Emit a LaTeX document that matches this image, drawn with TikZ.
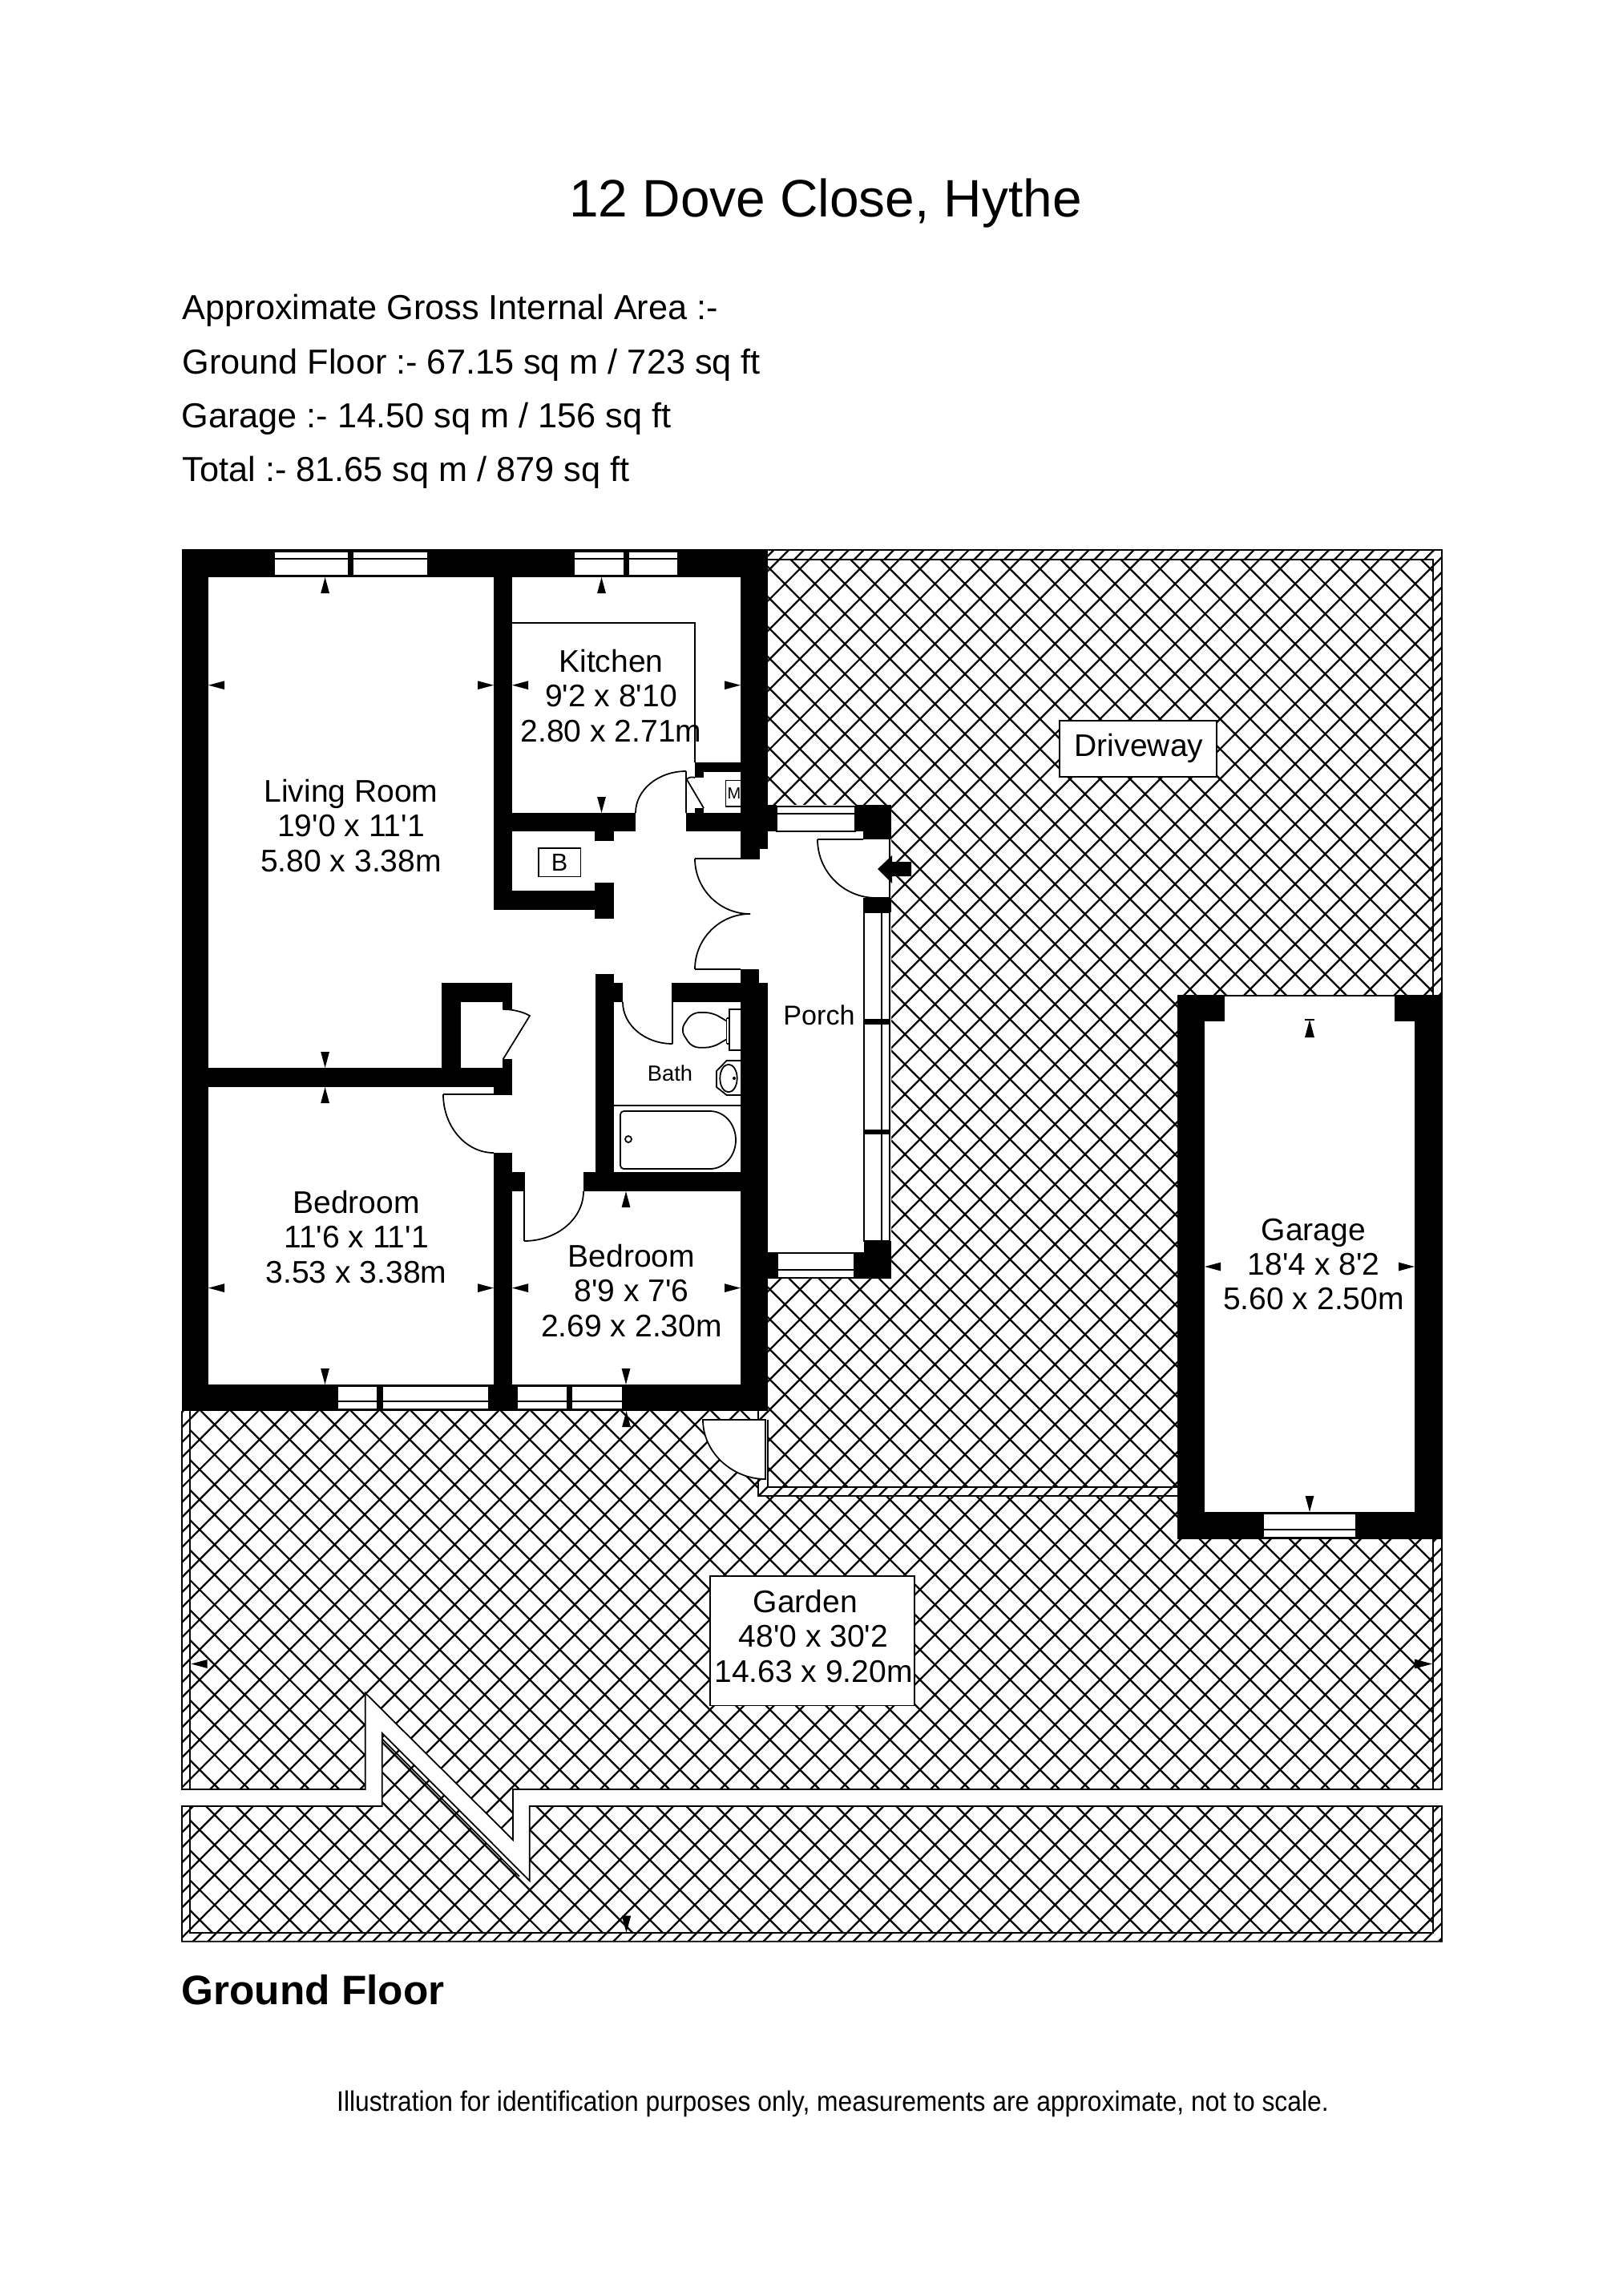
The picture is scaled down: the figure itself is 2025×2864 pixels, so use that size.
\documentclass[tikz,border=0pt]{standalone}
\usepackage{fontspec}
\usetikzlibrary{calc}
\newfontfamily\planfont{Liberation Sans}
\newcommand{\doorarc}[3]{(#1) .. controls ($(#1)!0.5523!(#2)$) and ($(#3)!0.5523!(#2)$) .. (#3)}
\newcommand{\dimmark}[4]{\fill (#1,#2) -- ++({#3+#4*0.27},{#4+#3*0.27}) -- ++({-2*#4*0.27},{-2*#3*0.27}) -- cycle;}
\tikzset{
    wall/.style={fill=black},
    plan/.style={draw=black, line width=0.5pt},
    glazing/.style={draw=black, fill=white, line width=0.5pt},
    hatchline/.style={draw=black, line width=0.65pt},
    roomlabel/.style={font=\planfont\fontsize{11.1}{12.35}\selectfont, align=center, inner sep=0pt},
    infoline/.style={font=\planfont\fontsize{12.3}{14}\selectfont, anchor=base west, inner sep=0pt}
}
\begin{document}
\begin{tikzpicture}[x=0.01cm, y=-0.01cm]
    \useasboundingbox (0,0) rectangle (2025,2864);

    \node [font=\planfont\fontsize{18.7}{20}\selectfont, anchor=base, inner sep=0pt] (title) at (1030,271) {12 Dove Close, Hythe};
    \node [infoline] (arealine) at (227,399) {Approximate Gross Internal Area :-};
    \node [infoline] (groundline) at (227,466) {Ground Floor :- 67.15 sq m / 723 sq ft};
    \node [infoline] (garageline) at (226,533) {Garage :- 14.50 sq m / 156 sq ft};
    \node [infoline] (totalline) at (227,600) {Total :- 81.65 sq m / 879 sq ft};

    \begin{scope}
        \clip (237.3,697.7) -- (1787.7,697.7) -- (1787.7,2232) -- (640,2232) -- (640,2295) -- (455.7,2111.7) -- (455.7,2232) -- (237.3,2232) -- cycle
              (237.3,2253) -- (476.7,2253) -- (476.7,2161.7) -- (660.7,2346) -- (660.7,2253) -- (1787.7,2253) -- (1787.7,2410.7) -- (237.3,2410.7) -- cycle;
        \foreach \k in {-66,...,23} {
            \draw [hatchline] (227,{227-251-37.45*\k}) -- (1799,{1799-251-37.45*\k});
        }
        \foreach \k in {-21,...,67} {
            \draw [hatchline] (227,{1707.6+37.45*\k-227}) -- (1799,{1707.6+37.45*\k-1799});
        }
    \end{scope}

    \fill [white] (946,1855) rectangle (1468.7,1866);
    \fill [white] (946,1760) rectangle (958,1866);
    \fill [white] (476.7,2161.7) -- (660.7,2346) -- (648,2340.5) -- (476.7,2169) -- cycle;

    \begin{scope}
        \clip (958,686) rectangle (1799,697.7)
              (1787.7,686) rectangle (1799,2232)
              (1787.7,2253) rectangle (1799,2421.7)
              (227,2410.7) rectangle (1799,2421.7)
              (227,1760) rectangle (237.3,2232)
              (227,2253) rectangle (237.3,2421.7)
              (946,1855) rectangle (1468.7,1866)
              (946,1760) rectangle (958,1771)
              (946,1845) rectangle (958,1866);
        \foreach \k in {-42,...,134} {
            \draw [hatchline] (227,{1707.6+18.725*\k-227}) -- (1799,{1707.6+18.725*\k-1799});
        }
    \end{scope}

    \begin{scope}
        \clip (476.7,2161.7) -- (660.7,2346) -- (648,2340.5) -- (476.7,2169) -- cycle;
        \foreach \k in {14,...,30} {
            \draw [hatchline] (227,{1707.6+37.45*\k-227}) -- (1799,{1707.6+37.45*\k-1799});
        }
    \end{scope}

    \draw [plan] (958,686) -- (1799,686) -- (1799,2232) -- (640,2232) -- (640,2295) -- (455.7,2111.7) -- (455.7,2232) -- (227,2232) -- (227,1760);
    \draw [plan] (958,697.7) -- (1787.7,697.7) -- (1787.7,2232);
    \draw [plan] (237.3,1760) -- (237.3,2232);
    \draw [plan] (227,2253) -- (476.7,2253) -- (476.7,2161.7) -- (660.7,2346) -- (660.7,2253) -- (1799,2253) -- (1799,2421.7) -- (227,2421.7) -- cycle;
    \draw [plan] (237.3,2253) -- (237.3,2410.7) -- (1787.7,2410.7) -- (1787.7,2253);
    \draw [plan] (476.7,2169) -- (648,2340.5);
    \draw [plan] (958,1771) -- (958,1855) -- (1468.7,1855);
    \draw [plan] (946,1760) -- (946,1771);
    \draw [plan] (946,1845) -- (946,1866) -- (1468.7,1866);

    \filldraw [glazing] (877,1771) .. controls (877,1812) and (914,1845) .. (955,1845) -- (955,1771) -- cycle;

    \fill [white] (226.5,685) -- (958,685) -- (958,1004) -- (1112,1004) -- (1112,1595) -- (958,1595) -- (958,1760) -- (226.5,1760) -- cycle;
    \fill [white] (1468.7,1240.7) rectangle (1799.3,1920);

    \node [font=\planfont\fontsize{5.7}{6}\selectfont, inner sep=0pt] (meterlabel) at (916,990) {M};
    \draw [plan] (905.6,973.6) rectangle (928,1006);

    \fill [wall] (226.5,685) rectangle (958,720);
    \fill [wall] (226.5,685) rectangle (260,1760);
    \fill [wall] (226.5,1727) rectangle (958,1760);
    \fill [wall] (924,685) rectangle (958,1059);
    \fill [wall] (924,1059) rectangle (948,1072);
    \fill [wall] (958,1004) rectangle (969,1037);
    \fill [wall] (1067,1004) rectangle (1112,1037);
    \fill [wall] (1077,1037) rectangle (1112,1047);
    \fill [wall] (1077,1120) rectangle (1112,1138);
    \fill [wall] (1078,1548) rectangle (1112,1562);
    \fill [wall] (1066,1562) rectangle (1112,1595);
    \fill [wall] (958,1562) rectangle (970,1595);
    \fill [wall] (924,1209) rectangle (947,1226);
    \fill [wall] (924,1226) rectangle (958,1760);
    \fill [wall] (838,1226) rectangle (924,1250);
    \fill [wall] (743,1215) rectangle (766,1486);
    \fill [wall] (766,1226) rectangle (777,1250);
    \fill [wall] (728,1462) rectangle (924,1486);
    \fill [wall] (639,1462) rectangle (655,1486);
    \fill [wall] (616,1438) rectangle (639,1760);
    \fill [wall] (610,1727) rectangle (645,1760);
    \fill [wall] (260,1332) rectangle (639,1356);
    \fill [wall] (616,1356) rectangle (639,1366);
    \fill [wall] (551,1226) rectangle (575,1332);
    \fill [wall] (551,1226) rectangle (639,1250);
    \fill [wall] (626.5,1250) rectangle (639,1259);
    \fill [wall] (626.5,1321) rectangle (639,1332);
    \fill [wall] (616,720) rectangle (639,1135);
    \fill [wall] (616,1111) rectangle (742,1135);
    \fill [wall] (742,1101) rectangle (766,1145.5);
    \fill [wall] (639,1014) rectangle (793,1037);
    \fill [wall] (742,1037) rectangle (766,1049);
    \fill [wall] (856,1014) rectangle (924,1037);
    \fill [wall] (867,951) rectangle (924,963);
    \fill [wall] (867,963) rectangle (878,970);
    \fill [wall] (867,1008) rectangle (878,1014);
    \fill [wall] (1468.7,1240.7) rectangle (1502.7,1920);
    \fill [wall] (1468.7,1240.7) rectangle (1527.7,1274);
    \fill [wall] (1739.7,1240.7) rectangle (1799.3,1274);
    \fill [wall] (1765,1240.7) rectangle (1799.3,1920);
    \fill [wall] (1468.7,1886) rectangle (1799.3,1920);
    \draw [plan] (1527.7,1242) -- (1739.7,1242);

    \filldraw [glazing] (342,688) rectangle (534,718);
    \draw [plan] (342,697) -- (534,697);
    \fill [wall] (434,688) rectangle (441,718);
    \filldraw [glazing] (716,688) rectangle (846,718);
    \draw [plan] (716,697) -- (846,697);
    \fill [wall] (778,688) rectangle (785,718);
    \filldraw [glazing] (421,1729) rectangle (610,1758);
    \draw [plan] (421,1748) -- (610,1748);
    \fill [wall] (470,1729) rectangle (478,1758);
    \filldraw [glazing] (645,1729) rectangle (777,1758);
    \draw [plan] (645,1748) -- (777,1748);
    \fill [wall] (707,1729) rectangle (714,1758);
    \filldraw [glazing] (1576,1888) rectangle (1692,1918);
    \draw [plan] (1576,1908) -- (1692,1908);
    \filldraw [glazing] (969,1006) rectangle (1067,1037);
    \draw [plan] (969,1015) -- (1067,1015);
    \filldraw [glazing] (970,1563) rectangle (1066,1594);
    \draw [plan] (970,1584) -- (1066,1584);
    \filldraw [glazing] (1078,1138) rectangle (1110,1548);
    \draw [plan] (1100,1138) -- (1100,1548);
    \fill [wall] (1078,1271) rectangle (1110,1278);
    \fill [wall] (1078,1409) rectangle (1110,1415);

    \draw [plan] (639,777) -- (867,777) -- (867,951);
    \draw [plan] (856,1014) -- (856,962) \doorarc{856,962}{793,962}{793,1014};
    \draw [plan] (856.7,972) -- (878,1008);
    \draw [plan] (856.7,972) .. controls (860,969) and (864,969) .. (867,970);
    \draw [plan] (924,1071) -- (867,1071) \doorarc{867,1071}{867,1140}{936,1140};
    \draw [plan] (924,1209) -- (867,1209) \doorarc{867,1209}{867,1140}{936,1140};
    \draw [plan] (1077,1047) -- (1020,1047) \doorarc{1020,1047}{1020,1120}{1093,1120} -- (1110,1120);
    \draw [plan] (1110,1047) -- (1110,1120);
    \draw [plan] (839,1250) -- (839,1302) \doorarc{839,1302}{777,1302}{777,1250};
    \draw [plan] (627.5,1321.5) -- (661,1267) .. controls (652,1262) and (640,1259) .. (627.5,1259);
    \draw [plan] (616,1365) -- (553,1365) \doorarc{553,1365}{553,1438}{616,1438};
    \draw [plan] (654,1486) -- (654,1548) \doorarc{654,1548}{728,1548}{728,1486};

    \fill (1095,1084) -- (1113,1067) -- (1113,1075) -- (1137,1075) -- (1137,1093) -- (1113,1093) -- (1113,1102) -- cycle;

    \draw [plan] (672,1058) rectangle (724.5,1093.5);
    \node [font=\planfont\fontsize{8.7}{9}\selectfont, inner sep=0pt] (boilerlabel) at (698,1076) {B};

    \draw [plan] (924,1259) -- (910,1259) -- (910,1310) -- (924,1310);
    \draw [plan] (906.6,1270) -- (910,1270);
    \draw [plan] (906.6,1302) -- (910,1302);
    \draw [plan] (906.6,1270) -- (906.6,1302);
    \draw [plan, rounded corners=2.5pt] (906.6,1273.6) -- (888.8,1263) -- (863.3,1263) -- (849,1284.6) -- (863.3,1306.7) -- (888.8,1306.7) -- (906.6,1296.3);
    \draw [plan] (924,1323) -- (906.6,1323) -- (894,1336) -- (894,1356) -- (906.6,1366) -- (924,1366);
    \draw [plan] (909,1345) ellipse [x radius=0.107cm, y radius=0.173cm];
    \fill (916,1345) circle [radius=0.02cm];
    \draw [plan] (766,1379) -- (924,1379);
    \draw [plan, rounded corners=1.2pt] (886,1386) -- (774,1386) -- (774,1458) -- (886,1458);
    \draw [plan] \doorarc{886,1386}{918,1386}{918,1422} \doorarc{918,1422}{918,1458}{886,1458};
    \draw [plan] (784,1421) circle [radius=0.04cm];

    \dimmark{405.6}{720}{0}{20}
    \dimmark{750.5}{720}{0}{20}
    \dimmark{260}{854.7}{20}{0}
    \dimmark{616}{854.7}{-20}{0}
    \dimmark{639}{854.7}{20}{0}
    \dimmark{924}{854.7}{-20}{0}
    \dimmark{750.5}{1014}{0}{-20}
    \dimmark{405.6}{1332}{0}{-20}
    \dimmark{405.6}{1356}{0}{20}
    \dimmark{781}{1486}{0}{20}
    \dimmark{639}{1606.6}{20}{0}
    \dimmark{616}{1606.6}{-20}{0}
    \dimmark{924}{1606.6}{-20}{0}
    \dimmark{781}{1727}{0}{-20}
    \dimmark{260}{1606.6}{20}{0}
    \dimmark{405.5}{1727}{0}{-20}
    \dimmark{781.5}{1760}{0}{20}
    \dimmark{238.5}{2075.5}{20}{0}
    \dimmark{1787}{2075.5}{-22}{0}
    \dimmark{781.5}{2410.7}{0}{-21}
    \dimmark{1634}{1272}{0}{22}
    \draw [plan] (1628,1272) -- (1640,1272);
    \dimmark{1634}{1886}{0}{-20}
    \dimmark{1503}{1580}{20}{0}
    \dimmark{1765}{1580}{-20}{0}

    \node [roomlabel] (livingroom) at (438,1030) {Living Room\\19'0 x 11'1\\5.80 x 3.38m};
    \node [roomlabel] (kitchen) at (762.5,868) {Kitchen\\9'2 x 8'10\\2.80 x 2.71m};
    \node [roomlabel] (bedroomleft) at (444.5,1543) {Bedroom\\11'6 x 11'1\\3.53 x 3.38m};
    \node [roomlabel] (bedroomright) at (788,1610) {Bedroom\\8'9 x 7'6\\2.69 x 2.30m};
    \node [roomlabel] (garage) at (1639,1577) {Garage\\18'4 x 8'2\\5.60 x 2.50m};
    \node [font=\planfont\fontsize{9.7}{11}\selectfont, inner sep=0pt] (porch) at (1022,1266) {Porch};
    \node [font=\planfont\fontsize{7.75}{9}\selectfont, inner sep=0pt] (bath) at (836,1339) {Bath};
    \filldraw [glazing] (1322,899) rectangle (1518,969);
    \node [roomlabel] (driveway) at (1421,933) {Driveway};
    \filldraw [glazing] (886,1966) rectangle (1141,2127.5);
    \node [roomlabel] (garden) at (1015,2041) {Garden\hspace*{0.2cm}\\48'0 x 30'2\hspace*{0.07cm}\\14.63 x 9.20m};

    \node [font=\planfont\bfseries\fontsize{14.6}{16}\selectfont, anchor=base west, inner sep=0pt] (floorname) at (226,2500) {Ground Floor};
    \node [font=\planfont\fontsize{10}{12}\selectfont, anchor=base, inner sep=0pt, xscale=0.905] (disclaimer) at (1039,2633) {Illustration for identification purposes only, measurements are approximate, not to scale.};
\end{tikzpicture}
\end{document}
